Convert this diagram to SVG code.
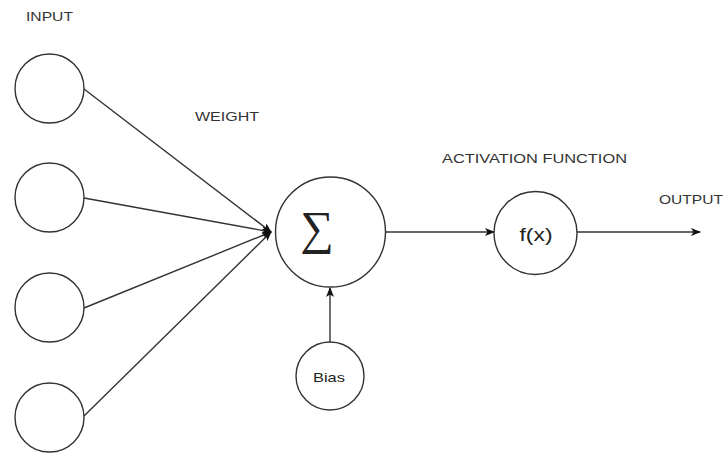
<svg xmlns="http://www.w3.org/2000/svg" width="727" height="453" viewBox="0 0 727 453">
  <defs>
    <marker id="arrow" viewBox="0 0 10 8" refX="9" refY="4" markerWidth="10" markerHeight="8" markerUnits="userSpaceOnUse" orient="auto">
      <path d="M0,0 L10,4 L0,8 L2.5,4 z" fill="#111"/>
    </marker>
  </defs>
  <style>
    .node { fill: #fff; stroke: #333; stroke-width: 1.4; }
    .edge { fill: none; stroke: #333; stroke-width: 1.4; marker-end: url(#arrow); }
    .label { font-family: "Liberation Sans", Arial, sans-serif; font-size: 12px; fill: #333; }
    .inner { font-family: "Liberation Sans", Arial, sans-serif; fill: #222; text-anchor: middle; }
    .sigma { font-family: "Liberation Serif", "Times New Roman", serif; fill: #222; text-anchor: middle; }
  </style>
  <rect width="727" height="453" fill="#fff"/>

  <!-- free-standing captions -->
  <text class="label" x="26" y="21" textLength="47" lengthAdjust="spacingAndGlyphs">INPUT</text>
  <text class="label" x="195" y="121" textLength="64" lengthAdjust="spacingAndGlyphs">WEIGHT</text>
  <text class="label" x="442" y="163" textLength="185" lengthAdjust="spacingAndGlyphs">ACTIVATION FUNCTION</text>
  <text class="label" x="659" y="204" textLength="64" lengthAdjust="spacingAndGlyphs">OUTPUT</text>

  <!-- connectors -->
  <g id="connectors">
    <line class="edge" x1="84" y1="89" x2="271" y2="232"/>
    <line class="edge" x1="84" y1="198" x2="271" y2="232"/>
    <line class="edge" x1="84" y1="308" x2="271" y2="232"/>
    <line class="edge" x1="84" y1="416" x2="271" y2="232"/>
    <line class="edge" x1="330" y1="342" x2="330" y2="288"/>
    <line class="edge" x1="386" y1="232" x2="494" y2="232"/>
    <line class="edge" x1="577" y1="232" x2="700" y2="232"/>
  </g>

  <!-- input neurons -->
  <g id="input1"><circle class="node" cx="49.5" cy="88.5" r="34.5"/></g>
  <g id="input2"><circle class="node" cx="49.5" cy="197.5" r="34.5"/></g>
  <g id="input3"><circle class="node" cx="49.5" cy="307.5" r="34.5"/></g>
  <g id="input4"><circle class="node" cx="49.5" cy="417.5" r="34.5"/></g>

  <!-- summation node -->
  <g id="sum">
    <circle class="node" cx="330.5" cy="232" r="55"/>
    <text class="sigma" x="317" y="244" font-size="47">∑</text>
  </g>

  <!-- bias node -->
  <g id="bias">
    <circle class="node" cx="330" cy="376" r="34"/>
    <text class="inner" x="329" y="382" font-size="13" textLength="32" lengthAdjust="spacingAndGlyphs">Bias</text>
  </g>

  <!-- activation node -->
  <g id="activation">
    <circle class="node" cx="535.5" cy="233" r="41.5"/>
    <text class="inner" x="536" y="241" font-size="19" textLength="33" lengthAdjust="spacingAndGlyphs">f(x)</text>
  </g>
</svg>
